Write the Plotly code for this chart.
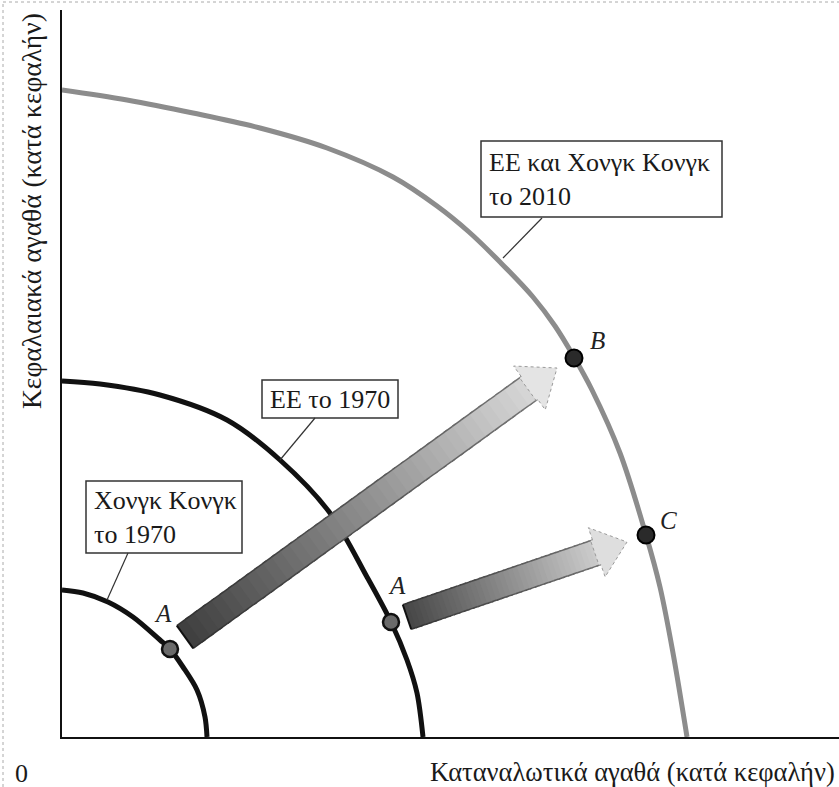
import plotly.graph_objects as go

# ---------------- data (1 unit = 10 px) ----------------
small_x = [0, 2.1, 4.6, 7.1, 9.8, 10.8, 12.1, 13.5, 14.3, 14.5]
small_y = [14.7, 14.4, 13.5, 12.0, 9.7, 8.8, 7.0, 4.7, 2.0, 0]

medium_x = [0, 3.8, 9.8, 16.5, 21.8, 26.8, 30.5, 32.9, 34.5, 35.5, 36.1]
medium_y = [35.6, 35.3, 34.2, 31.7, 27.7, 22.4, 16.0, 11.5, 7.7, 4.4, 0]

large_x = [0, 6.5, 13.1, 19.8, 26.5, 33.1, 37.5, 40.7, 43.8, 47.1, 49.3, 51.2, 53.0, 55.8, 58.4, 59.8, 61.1, 62.5]
large_y = [64.7, 63.7, 62.4, 60.9, 58.9, 56.0, 53.1, 50.5, 47.5, 44.0, 41.1, 38.0, 34.7, 28.4, 20.2, 15.0, 8.4, 0]

point_labels = ["A", "A", "B", "C"]
point_x = [10.8, 32.9, 51.2, 58.4]
point_y = [8.8, 11.5, 37.9, 20.2]

arrow_tail_x = [12.3, 34.5]
arrow_tail_y = [10.0, 12.0]
arrow_tip_x = [49.5, 56.5]
arrow_tip_y = [36.9, 19.5]

curve_labels = ["ΕΕ και Χονγκ Κονγκ<br>το 2010", "ΕΕ το 1970", "Χονγκ Κονγκ<br>το 1970"]
x_title = "Καταναλωτικά αγαθά (κατά κεφαλήν)"
y_title = "Κεφαλαιακά αγαθά (κατά κεφαλήν)"
origin_label = "0"

# ---------------- layout helpers (screen px -> data / paper) ----------------
W, H = 839, 787
PL, PT, PB, PR = 62, 10, 737, 839  # plot area edges on screen
X_MAX = (PR - PL) / 10.0
Y_MAX = (PB - PT) / 10.0


def dxp(px):
    return (px - PL) / 10.0


def dyp(py):
    return (PB - py) / 10.0


def pxp(px):
    return (px - PL) / (PR - PL)


def pyp(py):
    return (PB - py) / (PB - PT)


FONT = "Liberation Serif, DejaVu Serif, serif"
FS = 26

fig = go.Figure()

fig.add_trace(go.Scatter(x=large_x, y=large_y, mode="lines",
                         line=dict(color="#8c8c8c", width=5, shape="spline", smoothing=1.0),
                         hoverinfo="skip", showlegend=False))
fig.add_trace(go.Scatter(x=medium_x, y=medium_y, mode="lines",
                         line=dict(color="#111111", width=5, shape="spline", smoothing=0.9),
                         hoverinfo="skip", showlegend=False))
fig.add_trace(go.Scatter(x=small_x, y=small_y, mode="lines",
                         line=dict(color="#111111", width=5, shape="spline", smoothing=0.9),
                         hoverinfo="skip", showlegend=False))

shapes = []

# ---------------- gradient arrows ----------------
arrow_styles = [
    dict(hw=1.4, hh=2.7, hl=3.4, c0=62, c1=215, chead=228),
    dict(hw=1.3, hh=2.6, hl=3.2, c0=70, c1=205, chead=222),
]


def grey(v):
    v = int(max(0, min(255, round(v))))
    return "rgb(%d,%d,%d)" % (v, v, v)


for i in range(len(arrow_tail_x)):
    st = arrow_styles[i]
    x0, y0 = arrow_tail_x[i], arrow_tail_y[i]
    x1, y1 = arrow_tip_x[i], arrow_tip_y[i]
    ln = ((x1 - x0) ** 2 + (y1 - y0) ** 2) ** 0.5
    ux, uy = (x1 - x0) / ln, (y1 - y0) / ln
    nx, ny = -uy, ux
    blen = ln - st["hl"]
    N = 40
    hw = st["hw"]
    for k in range(N):
        t0, t1 = k / N, (k + 1) / N
        a = (x0 + ux * blen * t0, y0 + uy * blen * t0)
        b = (x0 + ux * blen * min(1, t1 + 0.01), y0 + uy * blen * min(1, t1 + 0.01))
        pts = [(a[0] + nx * hw, a[1] + ny * hw), (b[0] + nx * hw, b[1] + ny * hw),
               (b[0] - nx * hw, b[1] - ny * hw), (a[0] - nx * hw, a[1] - ny * hw)]
        c = st["c0"] + (st["c1"] - st["c0"]) * (t0 + t1) / 2
        path = "M %f,%f L %f,%f L %f,%f L %f,%f Z" % (pts[0] + pts[1] + pts[2] + pts[3])
        shapes.append(dict(type="path", path=path, xref="x", yref="y",
                           fillcolor=grey(c), line=dict(width=0), layer="above"))
        ec = grey(c * 0.45 + 20)
        for s in (1, -1):
            shapes.append(dict(type="line", xref="x", yref="y",
                               x0=a[0] + s * nx * hw, y0=a[1] + s * ny * hw,
                               x1=b[0] + s * nx * hw, y1=b[1] + s * ny * hw,
                               line=dict(color=ec, width=1.5), layer="above"))
    # tail edge
    shapes.append(dict(type="line", xref="x", yref="y",
                       x0=x0 + nx * hw, y0=y0 + ny * hw, x1=x0 - nx * hw, y1=y0 - ny * hw,
                       line=dict(color="#111111", width=2), layer="above"))
    # head
    bx, by = x0 + ux * blen, y0 + uy * blen
    hh = st["hh"]
    path = "M %f,%f L %f,%f L %f,%f L %f,%f L %f,%f L %f,%f L %f,%f Z" % (
        bx + nx * hw, by + ny * hw,
        bx + nx * hh, by + ny * hh,
        x1, y1,
        bx - nx * hh, by - ny * hh,
        bx - nx * hw, by - ny * hw,
        bx - nx * hw - ux * 0.2, by - ny * hw - uy * 0.2,
        bx + nx * hw - ux * 0.2, by + ny * hw - uy * 0.2)
    shapes.append(dict(type="path", path=path, xref="x", yref="y",
                       fillcolor=grey(st["chead"]),
                       line=dict(color="#9a9a9a", width=1, dash="dot"), layer="above"))

# points
fig.add_trace(go.Scatter(x=point_x[:2], y=point_y[:2], mode="markers",
                         marker=dict(size=16, color="#6a6a6a", line=dict(color="#111", width=2.5)),
                         hoverinfo="skip", showlegend=False))
fig.add_trace(go.Scatter(x=point_x[2:], y=point_y[2:], mode="markers",
                         marker=dict(size=17, color="#2a2a2a", line=dict(color="#000", width=2)),
                         hoverinfo="skip", showlegend=False))

annotations = []
label_pos = [(163, 613), (397, 585), (597, 340), (668, 520)]
for lab, (px, py) in zip(point_labels, label_pos):
    annotations.append(dict(x=dxp(px), y=dyp(py), xref="x", yref="y", text="<i>%s</i>" % lab,
                            showarrow=False, font=dict(family=FONT, size=25, color="#222"),
                            xanchor="center", yanchor="middle"))

# label boxes
boxes = [(481, 141, 722, 217), (262, 380, 398, 418), (86, 481, 242, 553)]
for txt, (bx0, by0, bx1, by1) in zip(curve_labels, boxes):
    shapes.append(dict(type="rect", xref="x", yref="y", x0=dxp(bx0), y0=dyp(by0),
                       x1=dxp(bx1), y1=dyp(by1), fillcolor="white",
                       line=dict(color="#333", width=1.5), layer="above"))
    annotations.append(dict(x=dxp(bx0 + 6), y=dyp((by0 + by1) / 2), xref="x", yref="y", text=txt,
                            showarrow=False, align="left", xanchor="left", yanchor="middle",
                            font=dict(family=FONT, size=FS, color="#1a1a1a")))

# leader lines
leaders = [(542, 218, 503, 258), (315, 418, 280, 460), (128, 553, 107, 600)]
for (ax0, ay0, ax1, ay1) in leaders:
    shapes.append(dict(type="line", xref="x", yref="y", x0=dxp(ax0), y0=dyp(ay0),
                       x1=dxp(ax1), y1=dyp(ay1), line=dict(color="#333", width=1.2),
                       layer="above"))

# scan-border dots
shapes.append(dict(type="line", xref="paper", yref="paper",
                   x0=pxp(3), x1=pxp(3), y0=pyp(787), y1=pyp(2),
                   line=dict(color="#aaa", width=1, dash="dot")))
shapes.append(dict(type="line", xref="paper", yref="paper",
                   x0=pxp(3), x1=1, y0=pyp(2), y1=pyp(2),
                   line=dict(color="#aaa", width=1, dash="dot")))

# axis titles (paper coordinates: off-axis annotations would be hidden)
annotations.append(dict(x=pxp(837), y=pyp(772), xref="paper", yref="paper", text=x_title,
                        showarrow=False, xanchor="right", yanchor="middle",
                        font=dict(family=FONT, size=26.5, color="#1a1a1a")))
annotations.append(dict(x=pxp(31), y=pyp(211), xref="paper", yref="paper", text=y_title,
                        showarrow=False, textangle=-90, xanchor="center", yanchor="middle",
                        font=dict(family=FONT, size=27.5, color="#1a1a1a")))
annotations.append(dict(x=pxp(21), y=pyp(773), xref="paper", yref="paper", text=origin_label,
                        showarrow=False, xanchor="center", yanchor="middle",
                        font=dict(family=FONT, size=FS, color="#1a1a1a")))

axis_common = dict(showgrid=False, zeroline=False, showticklabels=False, ticks="",
                   showline=True, linecolor="#111", linewidth=2, fixedrange=True)
fig.update_layout(
    width=W, height=H,
    margin=dict(l=PL, r=W - PR, t=PT, b=H - PB),
    paper_bgcolor="white", plot_bgcolor="white",
    xaxis=dict(range=[0, X_MAX], **axis_common),
    yaxis=dict(range=[0, Y_MAX], **axis_common),
    shapes=shapes, annotations=annotations, showlegend=False,
)

fig.write_html("out.html", config={"displayModeBar": False},
               post_script="document.body.style.margin='0';document.body.style.overflow='hidden';")
